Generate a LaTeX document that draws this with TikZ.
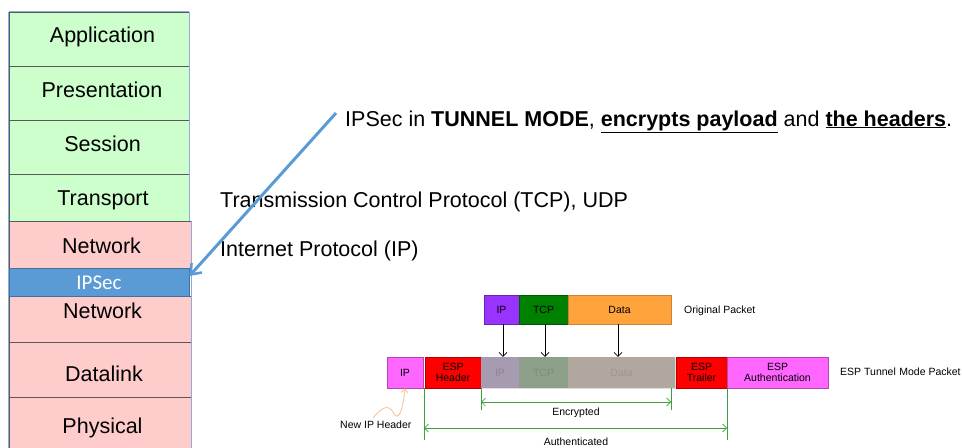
\documentclass[tikz,border=0pt]{standalone}
\usepackage{fontspec}
\setmainfont{Liberation Sans}
\newfontfamily\calibfont{Carlito}
\usetikzlibrary{arrows.meta,shadows}
\definecolor{lgreen}{RGB}{204,255,204}
\definecolor{lpink}{RGB}{255,204,204}
\definecolor{ipsblue}{RGB}{91,155,213}
\definecolor{ipsborder}{RGB}{65,113,156}
\definecolor{outerb}{RGB}{143,170,220}
\definecolor{divline}{RGB}{89,89,89}
\definecolor{ppurple}{RGB}{153,51,255}
\definecolor{pgreen}{RGB}{0,128,0}
\definecolor{porange}{RGB}{255,163,60}
\definecolor{pmag}{RGB}{255,102,255}
\definecolor{pred}{RGB}{255,0,0}
\definecolor{fpurple}{RGB}{167,155,177}
\definecolor{fgreen}{RGB}{143,160,138}
\definecolor{forange}{RGB}{176,168,158}
\definecolor{garrow}{RGB}{60,160,60}
\definecolor{lorange}{RGB}{250,190,140}
\begin{document}
\begin{tikzpicture}[x=1pt,y=-1pt,
  bigtxt/.style={font=\fontsize{21.5}{24}\selectfont},
  layer/.style={rectangle,draw=divline,line width=0.8pt,minimum width=180pt,inner sep=0pt},
  greenlayer/.style={layer,fill=lgreen},
  pinklayer/.style={layer,fill=lpink},
  ltxt/.style={bigtxt,anchor=base,inner sep=0pt},
  pk/.style={rectangle,inner sep=0pt,align=center,font=\fontsize{10.5}{11}\selectfont,
    drop shadow={shadow xshift=1.2pt,shadow yshift=-1.2pt,opacity=0.25}},
  orig/.style={pk,minimum height=29pt},
  tun/.style={pk,minimum height=31pt},
  smalltxt/.style={font=\fontsize{10.5}{12}\selectfont,inner sep=0pt},
  gline/.style={draw=garrow,line width=0.7pt},
  garr/.style={gline,{Straight Barb[length=4pt,width=8pt]}-{Straight Barb[length=4pt,width=8pt]}}
]
\useasboundingbox (0,0) rectangle (963,447);
% ---- OSI stack ----
\node[greenlayer,minimum height=54pt] (app) at (99,39) {};
\node[greenlayer,minimum height=54pt] (pres) at (99,93) {};
\node[greenlayer,minimum height=54pt] (sess) at (99,147) {};
\node[greenlayer,minimum height=47pt] (trans) at (99,197.5) {};
\node[pinklayer,minimum height=47pt,minimum width=182pt] (net1) at (100,244.5) {};
\node[pinklayer,minimum height=46pt,minimum width=182pt] (net2) at (100,319) {};
\node[pinklayer,minimum height=55pt,minimum width=182pt] (dl) at (100,369.5) {};
\node[pinklayer,minimum height=58pt,minimum width=182pt] (phys) at (100,426) {};
\node[rectangle,draw=ipsborder,line width=0.8pt,fill=ipsblue,minimum width=180pt,minimum height=28pt,inner sep=0pt] (ipsec) at (99,282) {};
\draw[outerb,line width=0.8pt] (app.north west) -- (app.north east);
\draw[outerb,line width=0.8pt] (app.north west) -- (trans.south west);
\draw[outerb,line width=0.8pt] (app.north east) -- (trans.south east);
\draw[outerb,line width=0.8pt] (net1.north west) -- (phys.south west);
\draw[outerb,line width=0.8pt] (net1.north east) -- (phys.south east);
\node[ltxt] (tapp) at (102.5,42) {Application};
\node[ltxt] (tpres) at (102,97) {Presentation};
\node[ltxt] (tsess) at (102.5,151) {Session};
\node[ltxt] (ttrans) at (103,205) {Transport};
\node[ltxt] (tnet1) at (101.5,253) {Network};
\node[anchor=base,inner sep=0pt,text=white,font=\calibfont\fontsize{21}{22}\selectfont] (tipsec) at (99,289) {IPSec};
\node[ltxt] (tnet2) at (102.5,318) {Network};
\node[ltxt] (tdl) at (104,381) {Datalink};
\node[ltxt] (tphys) at (102.5,433) {Physical};
% ---- texts ----
\node[bigtxt,anchor=base west,inner sep=0pt] (title) at (345,126)
  {IPSec in \textbf{TUNNEL MODE}, \textbf{\underline{encrypts payload}} and \textbf{\underline{the headers}}.};
\node[bigtxt,anchor=base west,inner sep=0pt] (tcp) at (220,207) {Transmission Control Protocol (TCP), UDP};
\node[bigtxt,anchor=base west,inner sep=0pt] (iptxt) at (220,256) {Internet Protocol (IP)};
% ---- arrow ----
\coordinate (astart) at (336,113);
\draw[ipsblue,line width=3pt,-{Straight Barb[length=9pt,width=14pt,line width=2.5pt]}] (astart) -- ([yshift=6pt]ipsec.east);
% ---- original packet ----
\node[orig,fill=ppurple,draw=ppurple!70!black,minimum width=35pt] (oip) at (501.5,309.5) {IP};
\node[orig,fill=pgreen,draw=pgreen!70!black,minimum width=49pt] (otcp) at (543.5,309.5) {TCP};
\node[orig,fill=porange,draw=porange!80!black,minimum width=103pt] (odata) at (619.5,309.5) {Data};
\node[smalltxt,anchor=west] (origlbl) at (684,311) {Original Packet};
% ---- tunnel packet ----
\node[tun,fill=pmag,draw=pmag!70!black,minimum width=36pt] (nip) at (405,372.5) {IP};
\node[tun,fill=pred,draw=pred!70!black,minimum width=56pt] (esph) at (453,372.5) {ESP\\Header};
\node[tun,fill=fpurple,minimum width=38pt,text=fpurple!85!black] (fip) at (500,372.5) {IP};
\node[tun,fill=fgreen,minimum width=49pt,text=fgreen!88!black] (ftcp) at (543.5,372.5) {TCP};
\node[tun,fill=forange,minimum width=107pt,text=forange!90!black] (fdata) at (621.5,372.5) {Data};
\node[tun,fill=pred,draw=pred!70!black,minimum width=51pt] (espt) at (701.5,372.5) {ESP\\Trailer};
\node[tun,fill=pmag,draw=pmag!70!black,minimum width=101pt] (espa) at (777.5,372.5) {ESP\\Authentication};
\node[smalltxt,anchor=west] (tunlbl) at (840,372) {ESP Tunnel\,\,Mode Packet};
% ---- down arrows ----
\draw[black,line width=0.6pt,-{Straight Barb[length=4pt,width=8pt]}] ([xshift=1.5pt]oip.south) -- ([xshift=1.5pt]oip.south |- fip.north);
\draw[black,line width=0.6pt,-{Straight Barb[length=4pt,width=8pt]}] ([xshift=1.5pt]otcp.south) -- ([xshift=1.5pt]otcp.south |- ftcp.north);
\draw[black,line width=0.6pt,-{Straight Barb[length=4pt,width=8pt]}] ([xshift=-1.5pt]odata.south) -- ([xshift=-1.5pt]odata.south |- fdata.north);
% ---- encrypted / authenticated ----
\coordinate (e1) at (481,388);
\coordinate (e2) at (671,388);
\coordinate (a1) at (424,388);
\coordinate (a2) at (727,388);
\coordinate (e1b) at (481,410);
\coordinate (e2b) at (671,410);
\coordinate (a1b) at (424,440);
\coordinate (a2b) at (727,440);
\draw[gline] (e1) -- (e1b);
\draw[gline] (e2) -- (e2b);
\draw[gline] (a1) -- (a1b);
\draw[gline] (a2) -- (a2b);
\draw[garr] (481,402) -- (671,402);
\draw[garr] (424,428) -- (727,428);
\node[smalltxt] (enc) at (576,413) {Encrypted};
\node[smalltxt] (auth) at (576,442) {Authenticated};
% ---- new IP header ----
\node[smalltxt,anchor=west] (newip) at (340,425) {New IP Header};
\draw[lorange,line width=0.8pt,-{Straight Barb[length=4pt,width=7pt]}]
  (373,418) .. controls (380,409) and (388,403) .. (393,412)
  .. controls (397,420) and (402,418) .. (nip.south);
\end{tikzpicture}
\end{document}
